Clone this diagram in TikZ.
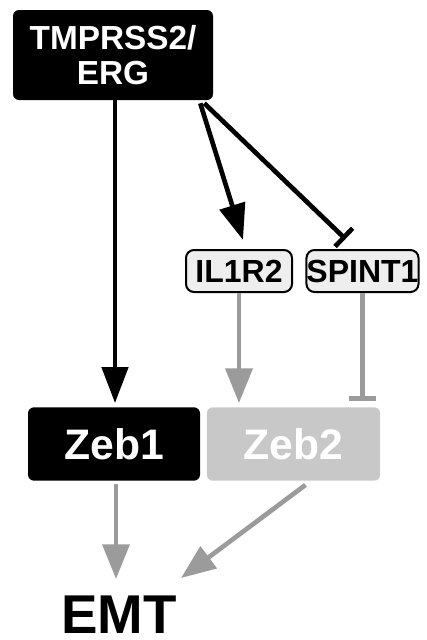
\documentclass[tikz,border=0pt]{standalone}
\usepackage{fontspec}
\setmainfont{Liberation Sans}
\usetikzlibrary{arrows.meta,calc}
\definecolor{arrgray}{HTML}{9B9B9B}
\definecolor{zebgray}{HTML}{C8C8C8}
\definecolor{boxgray}{HTML}{EEEEEE}
\tikzset{
  blackbox/.style={fill=black, text=white, rounded corners=4.5pt, inner sep=0pt, font=\bfseries},
  smallbox/.style={fill=boxgray, draw=black, line width=1.5pt, rounded corners=6pt, inner sep=0pt,
     minimum height=31.5pt, font=\fontsize{24}{26}\selectfont\bfseries},
  actblack/.style={draw=black, line width=3.5pt, -{Triangle[length=27pt,width=19.5pt]}},
  inhblack/.style={draw=black, line width=3.5pt, -{Bar[width=19pt]}},
  actgray/.style={draw=arrgray, line width=3.5pt, -{Triangle[length=26pt,width=20pt]}},
  inhgray/.style={draw=arrgray, line width=3.5pt, -{Bar[width=20pt]}},
}
\begin{document}
\begin{tikzpicture}[x=0.75pt,y=-0.75pt]
\useasboundingbox (0,0) rectangle (426,640);
\node[blackbox, minimum width=150pt, minimum height=67.5pt, align=center,
      font=\fontsize{25}{26.5}\selectfont\bfseries] (tmp) at (113,55) {TMPRSS2/\\ERG};
\node[smallbox, minimum width=79.5pt] (il) at (239,271) {IL1R2};
\node[smallbox, minimum width=83pt] (sp) at (362.5,271) {SPINT1};
\node[blackbox, minimum width=129pt, minimum height=55pt, font=\fontsize{32}{34}\selectfont\bfseries] (zeb1) at (114,444) {Zeb1};
\node[blackbox, fill=zebgray, minimum width=130pt, minimum height=55pt, font=\fontsize{32}{34}\selectfont\bfseries] (zeb2) at (293.5,444) {Zeb2};
\node[inner sep=0pt, font=\fontsize{41}{44}\selectfont\bfseries] (emt) at (119,615) {EMT};
\coordinate (emtA) at (116,579);
\coordinate (emtB) at (181,578);

\draw[actblack] ($(tmp.south)+(2,0)$) -- ($(zeb1.north)+(1,-4)$);
\draw[actblack] ($(tmp.south east)+(-13,3)$) -- ($(il.north)+(4,-9)$);
\draw[inhblack] ($(tmp.south east)+(-9,3)$) -- ($(sp.north)+(-17,-10)$);
\draw[actgray] (il.south) -- ($(zeb2.north -| il.south)+(0,-4)$);
\draw[inhgray] (sp.south) -- ($(zeb2.north -| sp.south)+(0,-6)$);
\draw[actgray] ($(zeb1.south)+(2,3)$) -- (emtA);
\draw[actgray] ($(zeb2.south)+(12,4)$) -- (emtB);
\end{tikzpicture}
\end{document}
